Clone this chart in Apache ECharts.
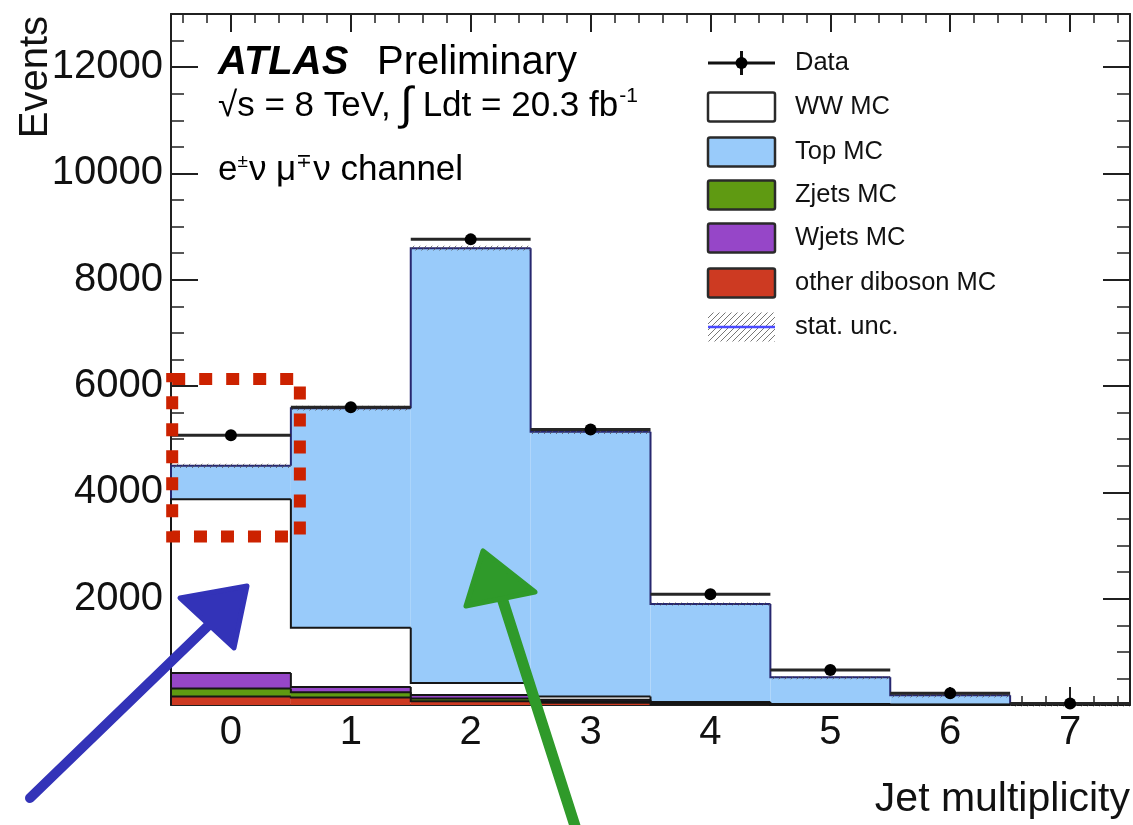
<!DOCTYPE html>
<html>
<head>
<meta charset="utf-8">
<title>Jet multiplicity</title>
<script src="https://cdn.jsdelivr.net/npm/echarts@6/dist/echarts.min.js"></script>
<style>
  html, body { margin: 0; padding: 0; background: #ffffff; }
  #chart { width: 1133px; height: 825px; }
</style>
</head>
<body>
<div id="chart"></div>
<script>
// Jet-multiplicity bins and event counts per sample
const jetBins = [0, 1, 2, 3, 4, 5, 6, 7];
const dataEvents      = [5075, 5600, 8760, 5185, 2085, 660, 220, 30];
const otherDibosonMC  = [160, 140, 70, 40, 15, 5, 2, 1];
const zjetsMC         = [150, 100, 50, 30, 10, 3, 1, 0];
const wjetsMC         = [290, 100, 70, 30, 10, 3, 1, 0];
const wwMC            = [3270, 1115, 225, 60, 20, 8, 3, 1];
const topMC           = [630, 4130, 8180, 4980, 1845, 501, 178, 18];
const statUncMC       = [40, 45, 45, 40, 30, 20, 12, 6];
const yTickStep = 2000;
const yMax = 13000;

const FONT = '"Liberation Sans", Arial, Helvetica, sans-serif';
const chart = echarts.init(document.getElementById('chart'), null, { renderer: 'canvas' });

// hatch used for the statistical uncertainty band
const hatch = document.createElement('canvas');
hatch.width = 6; hatch.height = 6;
(function () {
  const g = hatch.getContext('2d');
  g.strokeStyle = '#555555';
  g.lineWidth = 1;
  g.beginPath();
  g.moveTo(0, 6); g.lineTo(6, 0);
  g.moveTo(-1, 1); g.lineTo(1, -1);
  g.moveTo(5, 7); g.lineTo(7, 5);
  g.stroke();
})();
const hatchFill = { image: hatch, repeat: 'repeat' };

// stacking order, bottom to top
const layers = [
  { name: 'other diboson MC', values: otherDibosonMC, color: '#cd3a22', edge: '#161616' },
  { name: 'Zjets MC',         values: zjetsMC,        color: '#5f9a12', edge: '#161616' },
  { name: 'Wjets MC',         values: wjetsMC,        color: '#9646c8', edge: '#161616' },
  { name: 'WW MC',            values: wwMC,           color: '#ffffff', edge: '#161616' },
  { name: 'Top MC',           values: topMC,          color: '#99cbfa', edge: '#27276f' }
];
let running = jetBins.map(() => 0);
const stacked = layers.map(l => {
  const base = running.slice();
  running = running.map((r, i) => r + l.values[i]);
  return Object.assign({}, l, { base: base, top: running.slice() });
});
const mcTotal = running;

function histSeries(layer) {
  return {
    type: 'custom',
    name: layer.name,
    xAxisIndex: 0, yAxisIndex: 0,
    silent: true,
    data: jetBins.map((b, i) => [b, layer.base[i], layer.top[i], i > 0 ? layer.top[i - 1] : 0]),
    encode: { x: 0, y: [1, 2] },
    renderItem: function (params, api) {
      const x = api.value(0);
      const lo = api.coord([x - 0.5, api.value(1)]);
      const hi = api.coord([x + 0.5, api.value(2)]);
      const prev = api.coord([x - 0.5, api.value(3)]);
      const children = [{
        type: 'rect',
        shape: { x: lo[0], y: hi[1], width: hi[0] - lo[0], height: lo[1] - hi[1] },
        style: { fill: layer.color }
      }, {
        type: 'polyline',
        shape: { points: [[prev[0], prev[1]], [lo[0], hi[1]], [hi[0], hi[1]]] },
        style: { stroke: layer.edge, lineWidth: 2, fill: null }
      }];
      return { type: 'group', children: children };
    }
  };
}

const uncSeries = {
  type: 'custom',
  name: 'stat. unc.',
  silent: true,
  data: jetBins.map((b, i) => [b, mcTotal[i] - statUncMC[i], mcTotal[i] + statUncMC[i]]),
  encode: { x: 0, y: [1, 2] },
  renderItem: function (params, api) {
    const x = api.value(0);
    const lo = api.coord([x - 0.5, api.value(1)]);
    const hi = api.coord([x + 0.5, api.value(2)]);
    return {
      type: 'rect',
      shape: { x: lo[0], y: hi[1], width: hi[0] - lo[0], height: Math.max(lo[1] - hi[1], 3) },
      style: { fill: hatchFill, opacity: 0.8 }
    };
  }
};

const dataSeries = {
  type: 'custom',
  name: 'Data',
  silent: true,
  data: jetBins.map((b, i) => [b, dataEvents[i]]),
  encode: { x: 0, y: 1 },
  renderItem: function (params, api) {
    const x = api.value(0);
    const l = api.coord([x - 0.5, api.value(1)]);
    const r = api.coord([x + 0.5, api.value(1)]);
    const c = api.coord([x, api.value(1)]);
    return {
      type: 'group',
      children: [
        { type: 'line', shape: { x1: l[0], y1: l[1], x2: r[0], y2: r[1] }, style: { stroke: '#262626', lineWidth: 3 } },
        { type: 'circle', shape: { cx: c[0], cy: c[1], r: 6 }, style: { fill: '#000000' } }
      ]
    };
  }
};

const frameColor = '#202020';
function xAxisCfg(pos, labels) {
  return {
    type: 'value', position: pos, min: -0.5, max: 7.5, splitNumber: 8,
    axisLine: { show: true, onZero: false, lineStyle: { color: frameColor, width: 2 } },
    axisTick: { show: true, inside: true, length: 18, lineStyle: { color: frameColor, width: 2 } },
    minorTick: { show: true, splitNumber: 5, length: 9, lineStyle: { color: frameColor, width: 1.5 } },
    splitLine: { show: false },
    axisLabel: {
      show: labels, margin: 8, fontSize: 40, color: '#111', fontFamily: FONT,
      showMinLabel: false, showMaxLabel: false,
      formatter: v => (Number.isInteger(v) ? String(v) : '')
    }
  };
}
function yAxisCfg(pos, labels) {
  return {
    type: 'value', position: pos, min: 0, max: yMax, interval: yTickStep,
    axisLine: { show: true, onZero: false, lineStyle: { color: frameColor, width: 2 } },
    axisTick: { show: true, inside: true, length: 27, lineStyle: { color: frameColor, width: 2 } },
    minorTick: { show: true, splitNumber: 4, length: 13, lineStyle: { color: frameColor, width: 1.5 } },
    splitLine: { show: false },
    axisLabel: {
      show: labels, margin: 8, fontSize: 40, color: '#111', fontFamily: FONT,
      showMinLabel: false, showMaxLabel: false,
      formatter: v => String(v)
    }
  };
}

// legend drawn beside the upper-right of the frame
const legendRows = [
  { name: 'Data', kind: 'data', cy: 63 },
  { name: 'WW MC', kind: 'box', color: '#ffffff', cy: 107 },
  { name: 'Top MC', kind: 'box', color: '#99cbfa', cy: 152 },
  { name: 'Zjets MC', kind: 'box', color: '#5f9a12', cy: 195 },
  { name: 'Wjets MC', kind: 'box', color: '#9646c8', cy: 238 },
  { name: 'other diboson MC', kind: 'box', color: '#cd3a22', cy: 283 },
  { name: 'stat. unc.', kind: 'unc', cy: 327 }
];
const legendGraphics = [];
legendRows.forEach(row => {
  const x0 = 708, w = 67, h = 29;
  if (row.kind === 'data') {
    legendGraphics.push({ type: 'line', shape: { x1: x0, y1: row.cy, x2: x0 + w, y2: row.cy }, style: { stroke: '#111', lineWidth: 3 } });
    legendGraphics.push({ type: 'line', shape: { x1: x0 + w / 2, y1: row.cy - 12, x2: x0 + w / 2, y2: row.cy + 12 }, style: { stroke: '#111', lineWidth: 3 } });
    legendGraphics.push({ type: 'circle', shape: { cx: x0 + w / 2, cy: row.cy, r: 6 }, style: { fill: '#000' } });
  } else if (row.kind === 'box') {
    legendGraphics.push({ type: 'rect', shape: { x: x0, y: row.cy - h / 2, width: w, height: h, r: 2 }, style: { fill: row.color, stroke: '#2a2a2a', lineWidth: 2.5 } });
  } else {
    legendGraphics.push({ type: 'rect', shape: { x: x0, y: row.cy - h / 2, width: w, height: h }, style: { fill: hatchFill, opacity: 0.8 } });
    legendGraphics.push({ type: 'line', shape: { x1: x0, y1: row.cy, x2: x0 + w, y2: row.cy }, style: { stroke: '#4a4aff', lineWidth: 2.5 } });
  }
  legendGraphics.push({
    type: 'text', x: 795, y: row.cy,
    style: { text: row.name, font: '25.5px ' + FONT, fill: '#111', verticalAlign: 'middle', align: 'left' }
  });
});

// labels inside the frame
const labelGraphics = [
  { type: 'text', x: 218, y: 63, style: { text: 'ATLAS', font: 'italic bold 40px ' + FONT, fill: '#000', verticalAlign: 'middle' } },
  { type: 'text', x: 377, y: 63, style: { text: 'Preliminary', font: '40px ' + FONT, fill: '#000', verticalAlign: 'middle' } },
  {
    type: 'text', x: 218, y: 106,
    style: {
      text: '√s = 8 TeV, {int|∫} Ldt = 20.3 fb{sup|-1}',
      font: '35px ' + FONT, fill: '#000', verticalAlign: 'middle',
      rich: {
        int: { fontSize: 46, fontFamily: FONT, fill: '#000' },
        sup: { fontSize: 21, fontFamily: FONT, fill: '#000', padding: [0, 0, 20, 1] }
      }
    }
  },
  {
    type: 'text', x: 218, y: 170,
    style: {
      text: 'e{sup|±}ν μ{sup|∓}ν channel',
      font: '35px ' + FONT, fill: '#000', verticalAlign: 'middle',
      rich: { sup: { fontSize: 19, fontFamily: FONT, fill: '#000', padding: [0, 1, 16, 0] } }
    }
  },
  { type: 'text', x: 1130, y: 800, style: { text: 'Jet multiplicity', font: '41px ' + FONT, fill: '#111', align: 'right', verticalAlign: 'middle' } },
  { type: 'text', x: 36, y: 16, rotation: Math.PI / 2, style: { text: 'Events', font: '40px ' + FONT, fill: '#111', align: 'right', verticalAlign: 'middle' } }
];

chart.setOption({
  animation: false,
  backgroundColor: '#ffffff',
  grid: { left: 171, right: 3, top: 14, bottom: 120, containLabel: false, outerBoundsMode: 'none' },
  xAxis: [xAxisCfg('bottom', true), xAxisCfg('top', false)],
  yAxis: [yAxisCfg('left', true), yAxisCfg('right', false)],
  series: stacked.slice().reverse().map(histSeries).concat([uncSeries, dataSeries])
});

// hand-drawn highlights: dotted box around the 0-jet bin and two arrows
const boxCorners = [[-0.49, 6132], [0.575, 3170]];
function drawAnnotations() {
  const p0 = chart.convertToPixel({ gridIndex: 0 }, boxCorners[0]);
  const p1 = chart.convertToPixel({ gridIndex: 0 }, boxCorners[1]);
  const annotations = [
    {
      type: 'rect', z: 100,
      shape: { x: p0[0], y: p0[1], width: p1[0] - p0[0], height: p1[1] - p0[1] },
      style: { fill: null, stroke: '#cc2200', lineWidth: 12, lineDash: [13, 14] }
    },
    { type: 'polyline', z: 100, shape: { points: [[30, 798], [212, 622]] }, style: { stroke: '#3333b8', lineWidth: 10, lineCap: 'round' } },
    { type: 'polygon', z: 100, shape: { points: [[180, 598], [247, 586], [234, 648]] }, style: { fill: '#3333b8', stroke: '#3333b8', lineWidth: 5, lineJoin: 'round' } },
    { type: 'polyline', z: 100, shape: { points: [[575, 826], [502, 598]] }, style: { stroke: '#2f9a2a', lineWidth: 11, lineCap: 'round' } },
    { type: 'polygon', z: 100, shape: { points: [[483, 551], [466, 606], [535, 592]] }, style: { fill: '#2f9a2a', stroke: '#2f9a2a', lineWidth: 5, lineJoin: 'round' } }
  ];
  chart.setOption({ graphic: { elements: legendGraphics.concat(labelGraphics, annotations) } });
}
drawAnnotations();
</script>
</body>
</html>
